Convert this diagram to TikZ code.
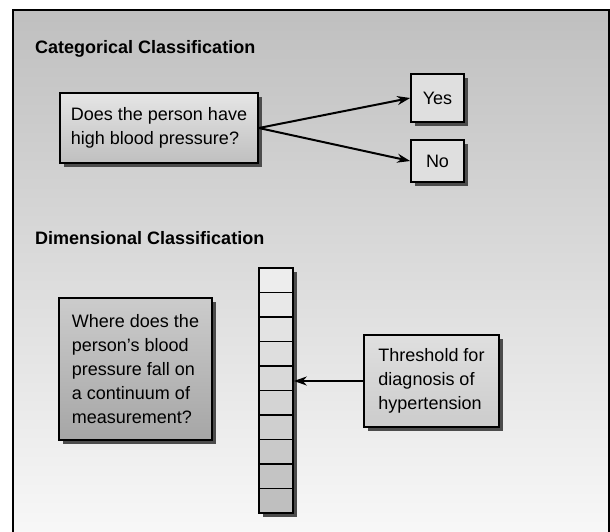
\documentclass[tikz,border=0pt]{standalone}
\usepackage{fontspec}
\setmainfont{Liberation Sans}
\usetikzlibrary{shadows,arrows.meta}
\begin{document}
\begin{tikzpicture}[x=1pt,y=-1pt,
  box/.style={draw=black, line width=1.7pt, align=left, inner sep=0pt,
    font=\fontsize{18}{24}\selectfont,
    drop shadow={shadow xshift=4pt, shadow yshift=-4pt, fill=black!70, opacity=1}},
  ttl/.style={anchor=west, inner sep=0pt, font=\fontsize{18}{20}\selectfont\bfseries},
  arr/.style={-{Stealth[length=13pt,width=9pt]}, line width=2pt},
  cell/.style={draw=black, line width=1.7pt, minimum width=34pt, minimum height=24.5pt, inner sep=0pt}
]
\useasboundingbox (0,0) rectangle (610,531);
\node[draw, line width=1.8pt, top color=gray!50, bottom color=gray!5,
  minimum width=596pt, minimum height=531pt, anchor=north west, inner sep=0pt] (frame) at (12,9) {};

\node[ttl] (t1) at (35,49) {Categorical Classification};
\node[ttl] (t2) at (35,238) {Dimensional Classification};

\node[box, top color=gray!20, bottom color=gray!50, minimum width=198pt, minimum height=70pt] (q) at (159,128)
  {Does the person have\\high blood pressure?};
\node[box, fill=gray!25, minimum width=53pt, minimum height=48pt] (yes) at (437.5,98) {Yes};
\node[box, fill=gray!25, minimum width=53pt, minimum height=42pt] (no) at (437.5,161) {No};
\draw[arr] (q.east) -- (yes.west);
\draw[arr] (q.east) -- (no.west);

\node[box, top color=gray!40, bottom color=gray!70, minimum width=153pt, minimum height=142pt] (w) at (135.5,369)
  {Where does the\\person's blood\\pressure fall on\\a continuum of\\measurement?};

\node[box, top color=gray!25, bottom color=gray!40, minimum width=135pt, minimum height=92pt] (thr) at (431.5,381)
  {Threshold for\\diagnosis of\\hypertension};

\node[box, minimum width=34pt, minimum height=245pt, fill=gray!20] (lad) at (276,390.5) {};
\foreach \i [evaluate=\i as \yy using 280.25+(\i-1)*24.5, evaluate=\i as \g using 10+4*\i] in {1,...,10}
  \node[cell, fill=gray!\g] (c\i) at (276,\yy) {};

\draw[arr] (thr.west) -- (thr.west -| lad.east);
\end{tikzpicture}
\end{document}
